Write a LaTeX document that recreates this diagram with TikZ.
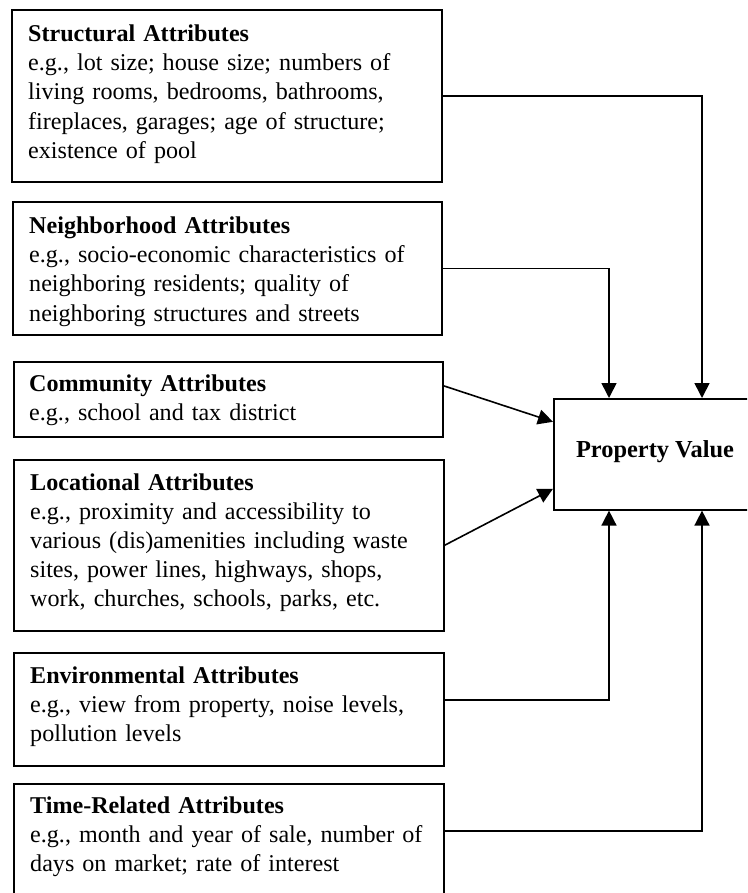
\documentclass[tikz,border=0pt]{standalone}
\usepackage{fontspec}
\setmainfont{Liberation Serif}
\usetikzlibrary{arrows.meta,calc}
\begin{document}
\begin{tikzpicture}[x=1pt,y=-1pt,
  box/.style={draw, line width=1.6pt, inner sep=0pt, anchor=north west},
  txt/.style={anchor=base west, inner sep=0pt, align=left, text width=425pt,
    font=\fontsize{24.1}{29.2}\selectfont},
  conn/.style={line width=1.6pt, -{Triangle[length=15pt,width=15pt]}}]
\useasboundingbox (0,0) rectangle (747,893);
\clip (0,0) rectangle (747,893);
\coordinate (xa) at (609,0);
\coordinate (xb) at (702,0);
% boxes
\node[box, minimum width=430pt, minimum height=172pt] (s) at (11,9) {};
\node[box, minimum width=429pt, minimum height=133pt] (n) at (12,201) {};
\node[box, minimum width=429pt, minimum height=75pt] (c) at (13,361) {};
\node[box, minimum width=430pt, minimum height=171pt] (l) at (13,459) {};
\node[box, minimum width=430pt, minimum height=113pt] (e) at (13,652) {};
\node[box, minimum width=430pt, minimum height=122pt] (t) at (13,783) {};
\node[box, minimum width=199pt, minimum height=111pt] (p) at (553,398) {};
% texts
\node[txt] (st) at (28,41.5) {\textbf{Structural Attributes}\\
e.g., lot size; house size; numbers of\\
living rooms, bedrooms, bathrooms,\\
fireplaces, garages; age of structure;\\
existence of pool};
\node[txt] (nt) at (29,233.5) {\textbf{Neighborhood Attributes}\\
e.g., socio-economic characteristics of\\
neighboring residents; quality of\\
neighboring structures and streets};
\node[txt] (ct) at (29,391.5) {\textbf{Community Attributes}\\
e.g., school and tax district};
\node[txt] (lt) at (30,490) {\textbf{Locational Attributes}\\
e.g., proximity and accessibility to\\
various (dis)amenities including waste\\
sites, power lines, highways, shops,\\
work, churches, schools, parks, etc.};
\node[txt] (et) at (30,683) {\textbf{Environmental Attributes}\\
e.g., view from property, noise levels,\\
pollution levels};
\node[txt] (tt) at (30,813) {\textbf{Time-Related Attributes}\\
e.g., month and year of sale, number of\\
days on market; rate of interest};
\node[anchor=base, inner sep=0pt, font=\fontsize{24.4}{29.2}\selectfont\bfseries] (pt) at (655,457) {Property Value};
% connectors
\draw[conn] (s.east) -| (xb |- p.north);
\draw[conn] (n.east) -| (xa |- p.north);
\draw[conn] ([yshift=13.5pt]c.east) -- ([yshift=32.5pt]p.west);
\draw[conn] (l.east) -- ([yshift=-34.5pt]p.west);
\draw[conn] ([yshift=9.5pt]e.east) -| (xa |- p.south);
\draw[conn] ([yshift=14pt]t.east) -| (xb |- p.south);
\end{tikzpicture}
\end{document}
